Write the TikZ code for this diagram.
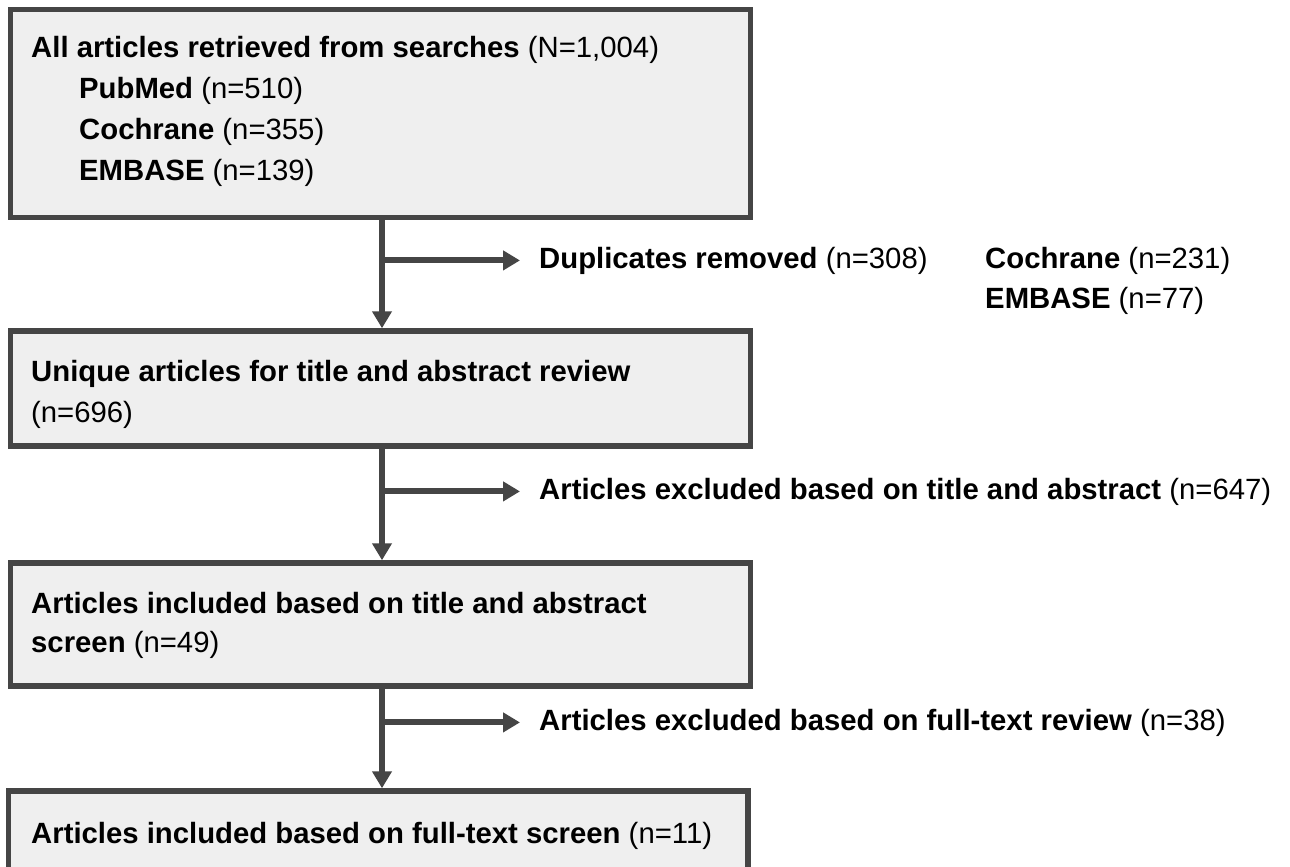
\documentclass[tikz,border=0pt]{standalone}
\usepackage{fontspec}
\setmainfont{Liberation Sans}
\usetikzlibrary{arrows.meta}
\definecolor{edgegray}{HTML}{454545}
\definecolor{boxfill}{HTML}{EFEFEF}
\tikzset{
  flowbox/.style={draw=edgegray, fill=boxfill, line width=5.5pt, rectangle, inner sep=0pt},
  txt/.style={anchor=base west, inner sep=0pt, text=black, font=\fontsize{29.3}{40}\selectfont},
  sidetxt/.style={txt, inner xsep=19pt},
  arr/.style={draw=edgegray, line width=6pt, -{Triangle[length=17pt,width=19pt]}},
  link/.style={draw=edgegray, line width=6pt}
}
\begin{document}
\begin{tikzpicture}[x=1pt,y=-1pt]
\clip (0,0) rectangle (1290,867);
\fill[white] (0,0) rectangle (1290,867);
% boxes
\node[flowbox, minimum width=740pt, minimum height=208pt] (box1) at (380.5,113.5) {};
\node[flowbox, minimum width=740pt, minimum height=115pt] (box2) at (380.5,388.5) {};
\node[flowbox, minimum width=740pt, minimum height=123pt] (box3) at (380.5,624.5) {};
\node[flowbox, minimum width=739.5pt, minimum height=139pt] (box4) at (378.25,860.5) {};
% box texts
\node[txt] (t1a) at (31,58) {\textbf{All articles retrieved from searches} (N=1,004)};
\node[txt] (t1b) at (79,98) {\textbf{PubMed} (n=510)};
\node[txt] (t1c) at (79,139) {\textbf{Cochrane} (n=355)};
\node[txt] (t1d) at (79,180) {\textbf{EMBASE} (n=139)};
\node[txt] (t2a) at (31,381) {\textbf{Unique articles for title and abstract review}};
\node[txt] (t2b) at (31,422) {(n=696)};
\node[txt] (t3a) at (31,613) {\textbf{Articles included based on title and abstract}};
\node[txt] (t3b) at (31,652) {\textbf{screen} (n=49)};
\node[txt] (t4a) at (31,843) {\textbf{Articles included based on full-text screen} (n=11)};
% side texts
\node[sidetxt] (s1) at (520,268) {\textbf{Duplicates removed} (n=308)};
\node[txt] (s1b) at (985,268) {\textbf{Cochrane} (n=231)};
\node[txt] (s1c) at (985,308) {\textbf{EMBASE} (n=77)};
\node[sidetxt] (s2) at (520,499) {\textbf{Articles excluded based on title and abstract} (n=647)};
\node[sidetxt] (s3) at (520,730) {\textbf{Articles excluded based on full-text review} (n=38)};
% connectors
\coordinate (v) at (382,0);
\draw[arr] (v |- box1.south) -- (v |- box2.north);
\draw[arr] (v |- box2.south) -- (v |- box3.north);
\draw[arr] (v |- box3.south) -- (v |- box4.north);
\draw[arr] (v |- s1.west) -- (s1.west);
\draw[arr] (v |- s2.west) -- (s2.west);
\draw[arr] (v |- s3.west) -- (s3.west);
\end{tikzpicture}
\end{document}
